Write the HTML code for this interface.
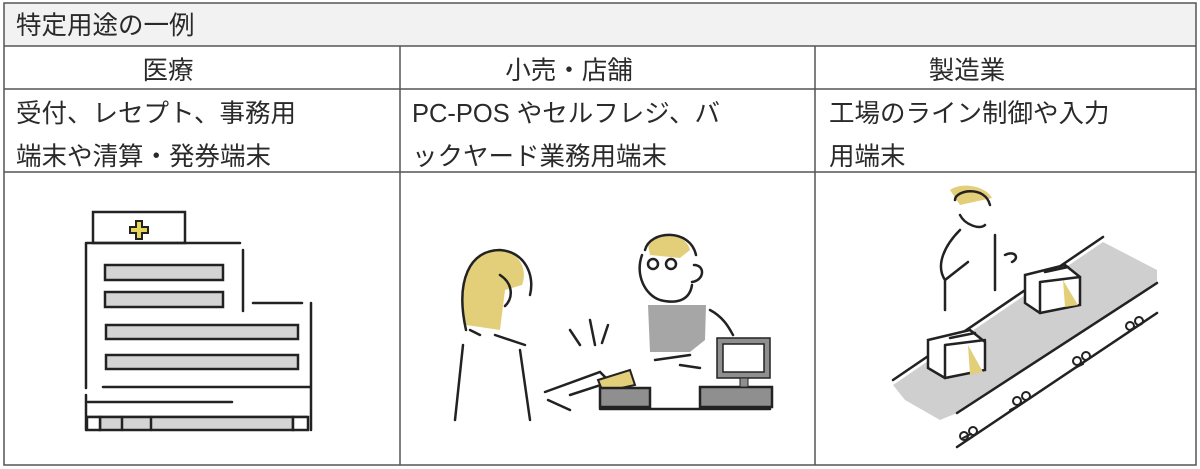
<!DOCTYPE html>
<html><head><meta charset="utf-8"><style>
html,body{margin:0;padding:0;background:#fff;}
svg{display:block;}
text{font-family:"Liberation Sans","Noto Sans CJK JP",sans-serif;font-size:25.5px;fill:#2a2a2a;}
</style></head><body>
<svg width="1200" height="469" viewBox="0 0 1200 469" xmlns="http://www.w3.org/2000/svg">
<rect x="4" y="3" width="1192" height="43" fill="#f2f2f2"/>
<g stroke="#555" stroke-width="1.5" fill="none">
<rect x="4" y="3" width="1192" height="462"/>
<line x1="4" y1="46" x2="1196" y2="46"/>
<line x1="4" y1="89" x2="1196" y2="89"/>
<line x1="4" y1="172" x2="1196" y2="172"/>
<line x1="400" y1="46" x2="400" y2="465"/>
<line x1="815" y1="46" x2="815" y2="465"/>
</g>
<text x="16" y="34">特定用途の一例</text>
<text x="168" y="79" text-anchor="middle">医療</text>
<text x="569" y="79" text-anchor="middle">小売・店舗</text>
<text x="967" y="79" text-anchor="middle">製造業</text>
<text x="16" y="122">受付、レセプト、事務用</text>
<text x="16" y="165">端末や清算・発券端末</text>
<text x="412" y="122" textLength="308">PC-POS やセルフレジ、バ</text>
<text x="412" y="165">ックヤード業務用端末</text>
<text x="829" y="122">工場のライン制御や入力</text>
<text x="829" y="165">用端末</text>

<!-- hospital -->
<g stroke="#222" stroke-width="2.5" fill="none" stroke-linecap="round">
<rect x="93" y="212" width="92" height="31" fill="#fff"/>
<path d="M86 243 V388 M86 243 H240 M243 250 V311 M253 303 H302 M311 303 V430 M103 387 H311 M88 402 H232 M86 395 V430 M87 417 H307"/>
<g fill="#d4d4d4">
<rect x="105" y="265" width="118" height="15"/>
<rect x="105" y="292" width="118" height="15"/>
<rect x="106" y="325" width="192" height="14"/>
<rect x="106" y="355" width="192" height="14"/>
<rect x="100" y="417" width="193" height="13"/>
</g>
<rect x="87" y="417" width="13" height="13" fill="#fff"/>
<rect x="293" y="417" width="15" height="13" fill="#fff"/>
<path d="M122 417 V430 M151 417 V430"/>
<path d="M136 221 h6 v6 h6 v6 h-6 v6 h-6 v-6 h-6 v-6 h6 z" fill="#e6d55a" stroke-width="2"/>
</g>

<!-- retail -->
<g stroke="#222" stroke-width="2.5" fill="none" stroke-linecap="round">
<path d="M466 325 C455 280 470 250 500 250 C520 252 528 270 522 285 L505 290 L500 330 Z" fill="#e3cf7a" stroke="none"/>
<path d="M466 330 C455 280 470 250 500 250 C525 252 535 275 530 295 M500 275 C515 285 512 300 505 306 M470 330 L480 335 M495 335 L525 345 M463 345 L455 420 M520 350 L530 420 M545 392 L600 372 L610 382 L570 395 M548 400 L570 410"/>
<path d="M648 245 C660 232 685 232 690 250 L680 258 L650 255 Z" fill="#e3cf7a" stroke="none"/>
<path d="M645 250 C650 230 690 228 696 255 M642 255 C635 275 645 295 660 300 C680 305 690 298 692 285 M694 265 C705 265 705 280 692 282"/>
<circle cx="653" cy="264" r="5"/><circle cx="671" cy="264" r="5"/>
<path d="M648 305 L706 305 L705 340 L690 352 L650 352 Z" fill="#a6a6a6" stroke="none"/>
<path d="M710 310 C725 318 730 330 733 335 M655 360 L690 355 M680 365 L700 368"/>
<path d="M570 330 L580 345 M590 320 L595 345 M608 325 L602 343"/>
<path d="M598 380 L630 370 L635 385 L603 392 Z" fill="#e3cf7a" stroke-width="2"/>
<rect x="600" y="388" width="50" height="19" fill="#8f8f8f"/>
<rect x="700" y="387" width="72" height="20" fill="#8f8f8f"/>
<rect x="717" y="338" width="53" height="40" fill="#8f8f8f" stroke-width="1.5"/>
<rect x="723" y="344" width="41" height="28" fill="#fff" stroke-width="1.5"/>
<rect x="740" y="378" width="8" height="9" fill="#8f8f8f" stroke-width="1"/>
<path d="M600 409 H770"/>
</g>

<!-- factory -->
<g stroke="#222" stroke-width="2.5" fill="none" stroke-linecap="round">
<path d="M893 385 L1103 242 L1157 270 L1157 283 L957 413 L940 420 L905 400 Z" fill="#cfcfcf" stroke="none"/>
<path d="M893 380 L1103 237 M957 413 L1157 283 M957 447 L1157 313"/>
<g stroke-width="2">
<path d="M963 438 l8 -4 M1010 410 l8 -4 M1075 368 l8 -4 M1130 330 l8 -4"/>
<circle cx="964" cy="436" r="4"/><circle cx="973" cy="431" r="4"/>
<circle cx="1017" cy="401" r="4"/><circle cx="1026" cy="396" r="4"/>
<circle cx="1077" cy="361" r="4"/><circle cx="1086" cy="356" r="4"/>
<circle cx="1130" cy="326" r="4"/><circle cx="1139" cy="321" r="4"/>
</g>
<path d="M950 190 C960 182 985 185 992 198 L960 205 Z" fill="#e3cf7a" stroke="none"/>
<path d="M955 200 C955 190 985 185 990 205 M960 215 C965 225 980 230 985 225 M960 230 C945 245 935 265 945 280 L968 262 M995 235 L995 290 M945 310 L945 280 M1005 255 C1015 250 1020 258 1012 262"/>
<g fill="#fff">
<path d="M928 340 L970 330 L985 342 L985 370 L945 378 L928 368 Z"/>
<path d="M1025 275 L1065 265 L1080 277 L1080 305 L1040 313 L1025 303 Z"/>
</g>
<path d="M968 345 L983 372 L970 375 Z M1063 280 L1078 305 L1065 307 Z" fill="#e3cf7a" stroke="none"/>
<path d="M945 345 L985 340 M945 345 V378 M1040 282 L1080 277 M1040 282 V313 M950 338 L975 333 M1045 272 L1068 267"/>
</g>
</svg>
</body></html>
